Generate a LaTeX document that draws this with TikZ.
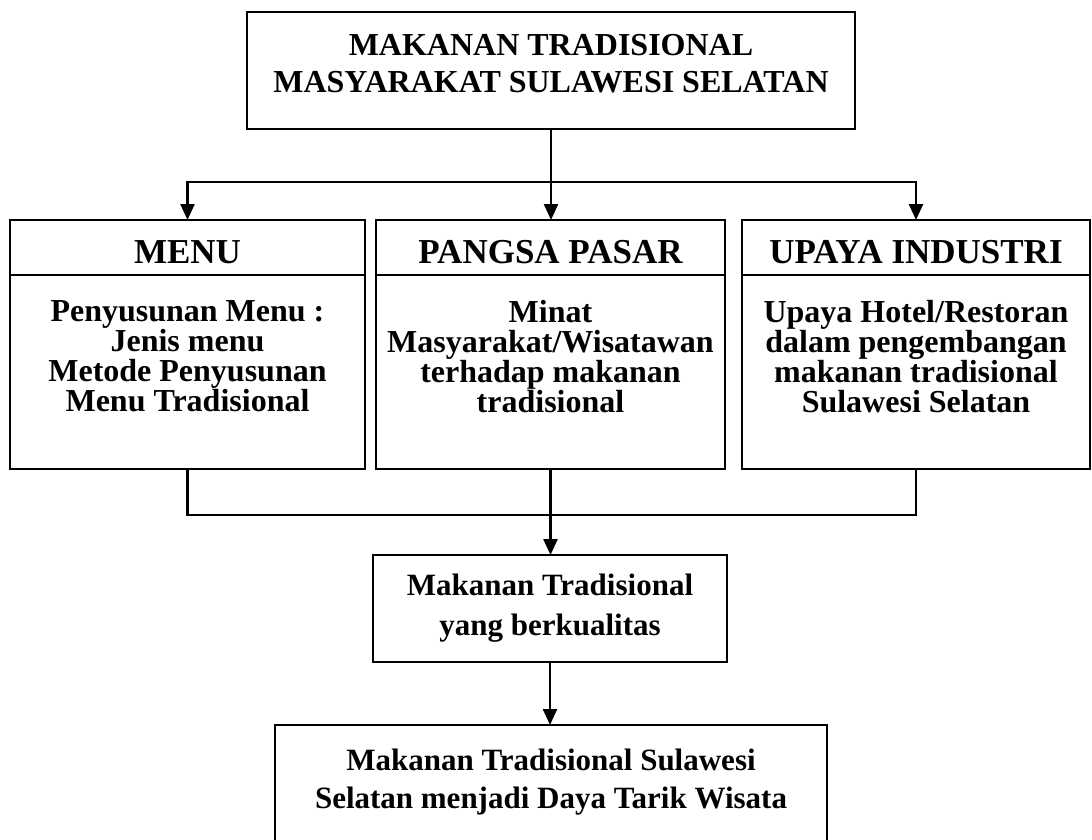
\documentclass[tikz,border=0pt]{standalone}
\usepackage{fontspec}
\setmainfont{Liberation Serif}
\usetikzlibrary{arrows.meta}
\setlength{\lineskiplimit}{-30pt}

\begin{document}
\begin{tikzpicture}[x=1pt,y=-1pt]
    \useasboundingbox (0,0) rectangle (1092,840);
    \tikzset{frame/.style={draw,line width=2.4pt,inner sep=0pt,outer sep=0pt},
             head/.style={frame,anchor=north,minimum height=55pt,
                          font=\fontsize{35}{30}\selectfont\bfseries,
                          text height=32pt,text depth=0pt},
             body/.style={anchor=north,align=center,inner sep=0pt,
                          font=\fontsize{32}{30}\selectfont\bfseries},
             link/.style={line width=2.4pt},
             arrow/.style={link,-{Triangle[length=16pt,width=14pt]}}}
    % judul
    \node[frame,anchor=north,minimum width=608pt,minimum height=117pt,align=center,
          font=\fontsize{32}{37}\selectfont\bfseries,text depth=14pt]
        (judul) at (551,12) {MAKANAN TRADISIONAL\\MASYARAKAT SULAWESI SELATAN};
    % tiga kolom
    \foreach \x/\w/\name/\title in {187.5/355/menu/MENU,
                                    550.5/349/pangsa/PANGSA PASAR,
                                    916/348/upaya/UPAYA INDUSTRI}{
        \node[head,minimum width=\w pt] (\name) at (\x,220) {\title};
        \node[frame,anchor=north,minimum width=\w pt,minimum height=194pt]
            (isi-\name) at (\name.south) {};
    }
    \node[body] (teks-menu) at (187.5,300)
        {Penyusunan Menu :\\Jenis menu\\Metode Penyusunan\\Menu Tradisional};
    \node[body] (teks-pangsa) at (550.5,300)
        {Minat\\Masyarakat/Wisatawan\\terhadap makanan\\tradisional};
    \node[body] (teks-upaya) at (916,300)
        {Upaya Hotel/Restoran\\dalam pengembangan\\makanan tradisional\\Sulawesi Selatan};
    % hasil
    \node[frame,minimum width=354pt,minimum height=107pt,align=center,
          font=\fontsize{31}{40}\selectfont\bfseries]
        (mutu) at (550,608.5) {Makanan Tradisional\\yang berkualitas};
    \node[frame,anchor=north,minimum width=552pt,minimum height=140pt]
        (daya) at (551,725) {};
    \node[anchor=north,align=center,inner sep=0pt,
          font=\fontsize{31}{38}\selectfont\bfseries]
        (teks-daya) at (551,749) {Makanan Tradisional Sulawesi\\Selatan menjadi Daya Tarik Wisata};
    % garis
    \coordinate (cabang) at (551,182);
    \coordinate (gabung) at (551,515);
    \draw[link] (judul.south) -- (cabang);
    \draw[arrow] (cabang) -| (menu.north);
    \draw[arrow] (cabang) -| (upaya.north);
    \draw[arrow] (cabang) -- (cabang |- pangsa.north);
    \draw[link] (isi-menu.south) |- (isi-upaya.south |- gabung) -- (isi-upaya.south);
    \draw[arrow] (isi-pangsa.south) -- (isi-pangsa.south |- mutu.north);
    \draw[arrow] (mutu.south) -- (mutu.south |- daya.north);
\end{tikzpicture}
\end{document}
